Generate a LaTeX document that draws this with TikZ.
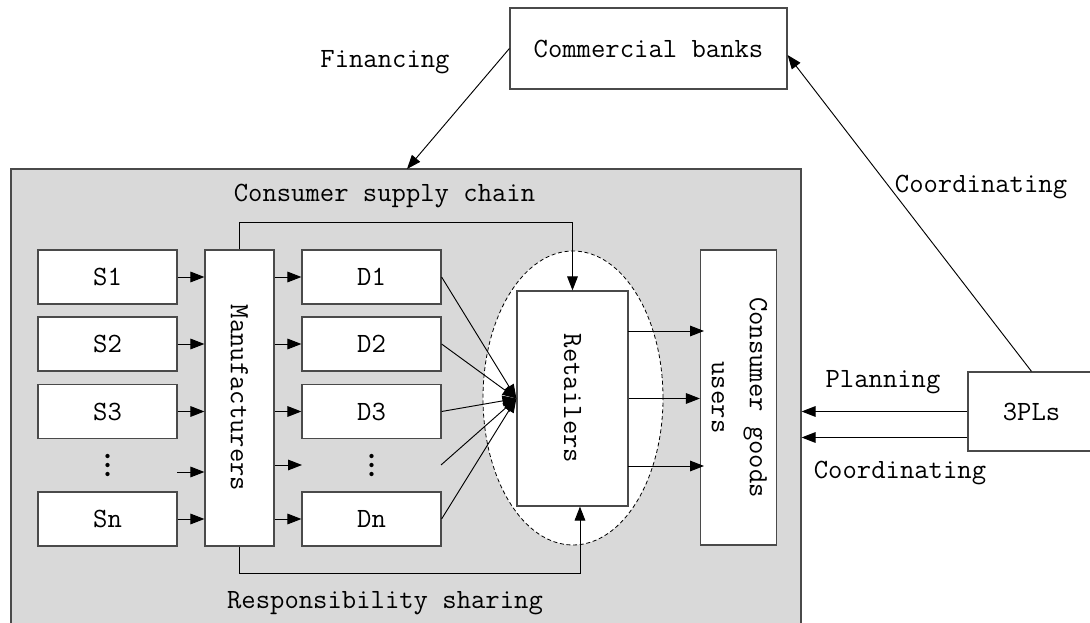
\documentclass[tikz,border=0pt]{standalone}
\usepackage{fontspec}
\usepackage{graphicx}
\usetikzlibrary{arrows.meta,calc,shapes.geometric}
\definecolor{panel}{HTML}{D9D9D9}
\definecolor{edge}{HTML}{4A4A4A}

\begin{document}
\begin{tikzpicture}[x=0.75pt,y=-0.75pt,
  font=\fontsize{20.9}{28.5}\selectfont\ttfamily,
  sz/.style 2 args={minimum width=#1*0.75pt, minimum height=#2*0.75pt},
  box/.style={draw=edge, line width=0.9pt, fill=white, inner sep=0pt},
  lbl/.style={inner sep=0pt},
  arr/.style={-{Triangle[length=10.5pt,width=8pt]}, line width=0.7pt},
  dot/.style={circle, fill=black, inner sep=0pt, minimum size=3.2pt}]

\useasboundingbox (0,0) rectangle (1090,623);
\clip (0,0) rectangle (1090,623);

% supply chain panel
\node[draw=edge, line width=0.9pt, fill=panel, inner sep=0pt, sz={790}{470}] (chain) at (406,404) {};

% top part: bank and financing
\node[box, sz={277}{81}] (banks) at (648.5,48.5) {Commercial banks};
\node[lbl] (fintext) at (385,62) {Financing};
\coordinate (fin) at (407,169);

% panel titles
\node[lbl] (title) at (384.5,196) {Consumer supply chain};
\node[lbl] (share) at (385,603) {Responsibility sharing};

% retailer group
\node[ellipse, draw, dashed, dash pattern=on 3pt off 2pt, line width=0.6pt, fill=white, inner sep=0pt, sz={180}{294}] (grp) at (573,398) {};

% suppliers
\node[box, sz={139}{54}] (s1) at (107.5,277) {S1};
\node[box, sz={139}{54}] (s2) at (107.5,344) {S2};
\node[box, sz={139}{54}] (s3) at (107.5,411.5) {S3};
\node[box, sz={139}{54}] (sn) at (107.5,519) {Sn};
% vertical ellipsis between S3 and Sn
\node[dot] (sd1) at (107.5,456) {};
\node[dot] (sd2) at (107.5,465) {};
\node[dot] (sd3) at (107.5,474) {};

% manufacturers
\node[box, sz={69}{296}] (man) at (239.5,398) {\rotatebox{-90}{Manufacturers}};

% distributors
\node[box, sz={139}{54}] (d1) at (371.5,277) {D1};
\node[box, sz={139}{54}] (d2) at (371.5,344) {D2};
\node[box, sz={139}{54}] (d3) at (371.5,411.5) {D3};
\node[box, sz={139}{54}] (dn) at (371.5,519) {Dn};
% vertical ellipsis between D3 and Dn
\node[dot] (dd1) at (371.5,456) {};
\node[dot] (dd2) at (371.5,465) {};
\node[dot] (dd3) at (371.5,474) {};

% retailers and users
\node[box, sz={111}{215}] (ret) at (572.5,398.5) {\rotatebox{-90}{Retailers}};
\node[box, sz={69}{295}] (user) at (738.5,397.5) {\rotatebox{-90}{\begin{tabular}{@{}c@{}}Consumer goods\\users\end{tabular}}};

% third party logistics
\node[box, sz={127}{79}] (pl) at (1031.5,411.5) {3PLs};
\node[lbl] (plan) at (883,382) {Planning};
\node[lbl] (coordlow) at (900,473) {Coordinating};
\node[lbl] (coordup) at (981,187) {Coordinating};

% loose ends of the unnamed rows
\coordinate (sgap) at (177,472);
\coordinate (dgapin) at (302,465);
\coordinate (dgapout) at (441,465);

% suppliers to manufacturers
\draw[arr] (s1.east) -- (s1.east -| man.west);
\draw[arr] (s2.east) -- (s2.east -| man.west);
\draw[arr] (s3.east) -- (s3.east -| man.west);
\draw[arr] (sgap) -- (sgap -| man.west);
\draw[arr] (sn.east) -- (sn.east -| man.west);

% manufacturers to distributors
\draw[arr] (man.east |- d1.west) -- (d1.west);
\draw[arr] (man.east |- d2.west) -- (d2.west);
\draw[arr] (man.east |- d3.west) -- (d3.west);
\draw[arr] (man.east |- dgapin) -- (dgapin);
\draw[arr] (man.east |- dn.west) -- (dn.west);

% distributors converge on retailers
\draw[arr] (d1.east) -- (ret.west);
\draw[arr] (d2.east) -- (ret.west);
\draw[arr] (d3.east) -- (ret.west);
\draw[arr] (dgapout) -- (ret.west);
\draw[arr] (dn.east) -- (ret.west);

% retailers to users
\draw[arr] (628,331) -- (704,331);
\draw[arr] (ret.east) -- (ret.east -| user.west);
\draw[arr] (628,466) -- (704,466);

% bypass links
\draw[arr] (man.north) -- ++(0,-27) -| (ret.north);
\draw[arr] (man.south) -- ++(0,27) -| ([xshift=5.6pt]ret.south);

% financing and coordination
\draw[arr] (banks.west) -- (fin);
\draw[arr] (pl.north) -- ([yshift=-4.9pt]banks.east);
\draw[arr] (pl.west) -- (pl.west -| chain.east);
\draw[arr] ([yshift=-19.5pt]pl.west) -- ([yshift=-19.5pt]pl.west -| chain.east);

\end{tikzpicture}
\end{document}
